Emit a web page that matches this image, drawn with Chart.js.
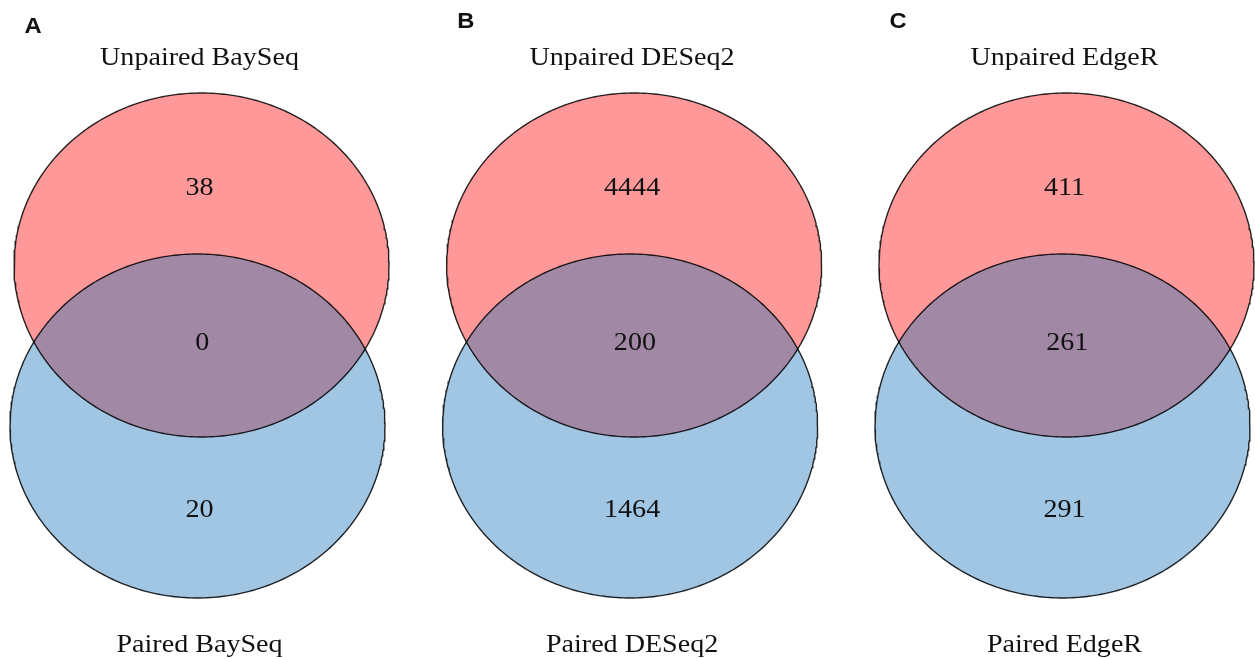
<!DOCTYPE html>
<html>
<head>
<meta charset="utf-8">
<title>Venn diagrams: unpaired vs paired analyses</title>
<script src="https://cdn.jsdelivr.net/npm/chart.js@4.4.1/dist/chart.umd.min.js"></script>
<style>
  html, body { margin: 0; padding: 0; background: #ffffff; }
  #wrap { position: relative; width: 1255px; height: 659px; }
</style>
</head>
<body>
<div id="wrap"><canvas id="venn"></canvas></div>
<script>
// ---- data ----
const panelLetters    = ['A', 'B', 'C'];
const upperSetNames   = ['Unpaired BaySeq', 'Unpaired DESeq2', 'Unpaired EdgeR'];
const lowerSetNames   = ['Paired BaySeq', 'Paired DESeq2', 'Paired EdgeR'];
const upperOnlyCounts = [38, 4444, 411];
const sharedCounts    = [0, 200, 261];
const lowerOnlyCounts = [20, 1464, 291];

// ---- layout (data units: 1 unit = one circle radius) ----
const X_RANGE = [0, 6.693];
const Y_RANGE = [-1.8227, 2.0087];
const panelCentres = [1.064, 3.371, 5.677];
const circleRadius = 1;
const circleOffsetY = 0.468;     // upper circle above, lower circle below the middle
const circleShiftX = 0.0107;     // slight tilt of the pair
const textPos = {
  title: 1.631, footer: -1.782,
  upper: 0.875, shared: -0.026, lower: -0.997,
  sharedShift: 0.015,
  letterX: -0.933, letterY: [1.817, 1.846, 1.846]
};

// ---- style ----
const upperFill = 'rgba(255, 0, 0, 0.40)';
const lowerFill = 'rgba(20, 112, 185, 0.40)';
const edgeColour = 'rgba(0, 0, 0, 0.85)';
const serif = '"Liberation Serif", "Times New Roman", serif';
const sans = '"Liberation Sans", Arial, sans-serif';
const textStretch = 1.08;

// outline of a circle as a closed path in data units
function circlePath(cx, cy, r, steps) {
  const pts = [];
  for (let i = 0; i <= steps; i++) {
    const t = (2 * Math.PI * i) / steps;
    pts.push({ x: cx + r * Math.cos(t), y: cy + r * Math.sin(t) });
  }
  return pts;
}

// Chart.js paints datasets from last to first, so the lower (blue) sets
// come first in the list and end up on top of the upper (red) sets.
const lowerCircles = panelCentres.map((cx, i) => ({
  label: lowerSetNames[i],
  data: circlePath(cx - circleShiftX, -circleOffsetY, circleRadius, 360),
  showLine: true, fill: 'shape',
  backgroundColor: lowerFill, borderColor: edgeColour, borderWidth: 1.4,
  pointRadius: 0, pointHoverRadius: 0, tension: 0, clip: false
}));
const upperCircles = panelCentres.map((cx, i) => ({
  label: upperSetNames[i],
  data: circlePath(cx + circleShiftX, circleOffsetY, circleRadius, 360),
  showLine: true, fill: 'shape',
  backgroundColor: upperFill, borderColor: edgeColour, borderWidth: 1.4,
  pointRadius: 0, pointHoverRadius: 0, tension: 0, clip: false
}));
const datasets = [...lowerCircles, ...upperCircles];

function drawStretched(ctx, text, px, py, font, align) {
  ctx.save();
  ctx.translate(px, py);
  ctx.scale(textStretch, 1);
  ctx.font = font;
  ctx.textAlign = align;
  ctx.textBaseline = 'alphabetic';
  ctx.fillText(text, 0, 0);
  ctx.restore();
}

// set names, region counts and panel letters
const vennLabels = {
  id: 'vennLabels',
  afterDatasetsDraw(chart) {
    const { ctx, scales: { x, y } } = chart;
    ctx.save();
    ctx.fillStyle = '#111111';
    panelCentres.forEach((cx, i) => {
      const px = x.getPixelForValue(cx);
      drawStretched(ctx, upperSetNames[i], px, y.getPixelForValue(textPos.title), '26px ' + serif, 'center');
      drawStretched(ctx, lowerSetNames[i], px, y.getPixelForValue(textPos.footer), '26px ' + serif, 'center');
      drawStretched(ctx, String(upperOnlyCounts[i]), px, y.getPixelForValue(textPos.upper), '26px ' + serif, 'center');
      drawStretched(ctx, String(sharedCounts[i]), x.getPixelForValue(cx + textPos.sharedShift), y.getPixelForValue(textPos.shared), '26px ' + serif, 'center');
      drawStretched(ctx, String(lowerOnlyCounts[i]), px, y.getPixelForValue(textPos.lower), '26px ' + serif, 'center');
      drawStretched(ctx, panelLetters[i], x.getPixelForValue(cx + textPos.letterX), y.getPixelForValue(textPos.letterY[i]), 'bold 22px ' + sans, 'left');
    });
    ctx.restore();
  }
};

new Chart(document.getElementById('venn'), {
  type: 'scatter',
  data: { datasets },
  options: {
    responsive: true,
    maintainAspectRatio: false,
    animation: false,
    events: [],
    layout: { padding: 0 },
    scales: {
      x: { type: 'linear', min: X_RANGE[0], max: X_RANGE[1], display: false },
      y: { type: 'linear', min: Y_RANGE[0], max: Y_RANGE[1], display: false }
    },
    plugins: {
      legend: { display: false },
      tooltip: { enabled: false },
      filler: { drawTime: 'beforeDatasetsDraw' }
    }
  },
  plugins: [vennLabels]
});
</script>
</body>
</html>
